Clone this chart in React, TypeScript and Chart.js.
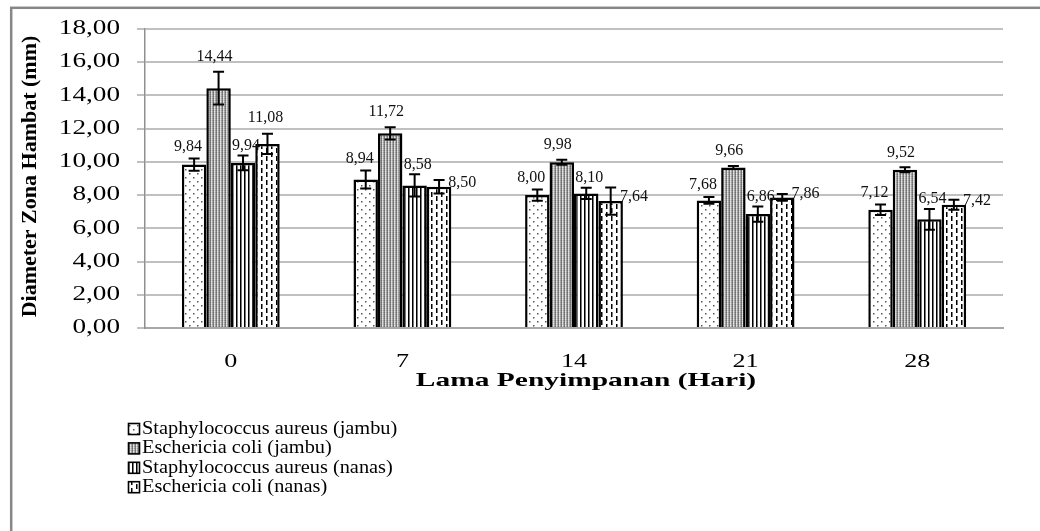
import { useEffect, useRef } from 'react';
import { Chart, registerables } from 'chart.js';

Chart.register(...registerables);

// ---- data ----
const categories = ['0', '7', '14', '21', '28'];
const seriesNames = [
  'Staphylococcus aureus (jambu)',
  'Eschericia coli (jambu)',
  'Staphylococcus aureus (nanas)',
  'Eschericia coli (nanas)',
];
const saJambu = [9.84, 8.94, 8.0, 7.68, 7.12];
const ecJambu = [14.44, 11.72, 9.98, 9.66, 9.52];
const saNanas = [9.94, 8.58, 8.1, 6.86, 6.54];
const ecNanas = [11.08, 8.5, 7.64, 7.86, 7.42];

const errSaJambu = [0.37, 0.54, 0.34, 0.2, 0.31];
const errEcJambu = [0.98, 0.37, 0.15, 0.09, 0.15];
const errSaNanas = [0.45, 0.67, 0.34, 0.46, 0.62];
const errEcNanas = [0.61, 0.41, 0.82, 0.2, 0.3];

const yMin = 0;
const yMax = 18;
const yStep = 2;

const xTitle = 'Lama Penyimpanan (Hari)';
const yTitle = 'Diameter Zona Hambat (mm)';

const seriesValues = [saJambu, ecJambu, saNanas, ecNanas];
const seriesErrors = [errSaJambu, errEcJambu, errSaNanas, errEcNanas];

const FONT = '"Liberation Serif", "Times New Roman", serif';
const fmt = (v: number) => v.toFixed(2).replace('.', ',');

// ---- horizontally stretched text (mimics the wide glyphs of the original) ----
const nativeFillText = CanvasRenderingContext2D.prototype.fillText;

function stretchedFillText(ctx: CanvasRenderingContext2D, text: string, x: number, y: number, sx: number) {
  const w = ctx.measureText(String(text)).width * sx;
  const align = ctx.textAlign;
  let start = x;
  if (align === 'center') start = x - w / 2;
  else if (align === 'right' || align === 'end') start = x - w;
  ctx.save();
  ctx.translate(start, y);
  ctx.scale(sx, 1);
  ctx.textAlign = 'left';
  nativeFillText.call(ctx, String(text), 0, 0);
  ctx.restore();
}

// ---- patterns ----
function makePattern(kind: number): CanvasPattern | string {
  const c = document.createElement('canvas');
  const g = c.getContext('2d');
  if (!g) return '#ffffff';
  if (kind === 0) {
    c.width = 8; c.height = 8;
    g.fillStyle = '#ffffff'; g.fillRect(0, 0, 8, 8);
    g.fillStyle = '#555555';
    g.fillRect(1, 1, 1.5, 1.5);
    g.fillRect(5, 5, 1.5, 1.5);
  } else if (kind === 1) {
    c.width = 3; c.height = 2;
    const cols = [['#6e6e6e', '#cfcfcf', '#999999'], ['#808080', '#e6e6e6', '#b0b0b0']];
    for (let r = 0; r < 2; r++) for (let k = 0; k < 3; k++) { g.fillStyle = cols[r][k]; g.fillRect(k, r, 1, 1); }
  } else if (kind === 2) {
    c.width = 4; c.height = 1;
    g.fillStyle = '#ffffff'; g.fillRect(0, 0, 4, 1);
    g.fillStyle = '#000000'; g.fillRect(0, 0, 1, 1);
    g.fillStyle = '#777777'; g.fillRect(1, 0, 1, 1);
  } else {
    c.width = 10; c.height = 8;
    g.fillStyle = '#ffffff'; g.fillRect(0, 0, 10, 8);
    g.fillStyle = '#000000';
    g.fillRect(1, 0, 1.5, 5);
    g.fillRect(6, 4, 1.5, 4);
    g.fillRect(6, 0, 1.5, 1);
  }
  return g.createPattern(c, 'repeat') || '#ffffff';
}

// ---- plugins ----
const stretch: Record<string, { labels: number; title: number; titleDx: number; titleDy: number }> = {
  x: { labels: 1.45, title: 1.55, titleDx: 12, titleDy: 0 },
  y: { labels: 1.36, title: 1.0, titleDx: 0, titleDy: -2 },
};

const stretchPlugin = {
  id: 'stretchedText',
  beforeDraw(chart: any) {
    for (const id of Object.keys(chart.scales)) {
      const s: any = chart.scales[id];
      const cfg = stretch[id];
      if (!cfg || s.__patched) continue;
      s.__patched = true;
      const ol = s.drawLabels;
      const ot = s.drawTitle;
      s.drawLabels = function (area: any) {
        const c = this.ctx;
        c.fillText = (t: string, x: number, y: number) => stretchedFillText(c, t, x, y, cfg.labels);
        ol.call(this, area);
        delete c.fillText;
      };
      s.drawTitle = function () {
        const c = this.ctx;
        c.save();
        c.translate(cfg.titleDx, cfg.titleDy);
        c.fillText = (t: string, x: number, y: number) => stretchedFillText(c, t, x, y, cfg.title);
        ot.call(this);
        delete c.fillText;
        c.restore();
      };
    }
  },
};

const borderPlugin = {
  id: 'outerBorder',
  beforeDraw(chart: any) {
    const ctx = chart.ctx;
    ctx.save();
    ctx.strokeStyle = '#878787';
    ctx.lineWidth = 2.5;
    ctx.strokeRect(11.2, 7.8, 1200, 700);
    ctx.restore();
  },
};

const errorBarPlugin = {
  id: 'errorBars',
  afterDatasetsDraw(chart: any) {
    const ctx = chart.ctx;
    const y = chart.scales.y;
    ctx.save();
    ctx.strokeStyle = '#000000';
    ctx.lineWidth = 2;
    chart.data.datasets.forEach((ds: any, di: number) => {
      const meta = chart.getDatasetMeta(di);
      meta.data.forEach((bar: any, i: number) => {
        const v = ds.data[i] as number;
        const e = ds.errors[i] as number;
        const top = y.getPixelForValue(v + e);
        const bot = y.getPixelForValue(v - e);
        const x = bar.x;
        ctx.beginPath();
        ctx.moveTo(x, top); ctx.lineTo(x, bot);
        ctx.moveTo(x - 5.5, top); ctx.lineTo(x + 5.5, top);
        ctx.moveTo(x - 5.5, bot); ctx.lineTo(x + 5.5, bot);
        ctx.stroke();
      });
    });
    ctx.restore();
  },
};

const labelDx = [-6, -4, 3, -2];
const labelGap = [12, 15, 10, 16];

const dataLabelPlugin = {
  id: 'valueLabels',
  afterDatasetsDraw(chart: any) {
    const ctx = chart.ctx;
    const y = chart.scales.y;
    ctx.save();
    ctx.font = `16px ${FONT}`;
    ctx.fillStyle = '#111111';
    ctx.textBaseline = 'middle';
    chart.data.datasets.forEach((ds: any, di: number) => {
      const meta = chart.getDatasetMeta(di);
      meta.data.forEach((bar: any, i: number) => {
        const v = ds.data[i] as number;
        const e = ds.errors[i] as number;
        const text = fmt(v);
        if (di === 3 && i > 0) {
          ctx.textAlign = 'left';
          ctx.fillText(text, bar.x + bar.width / 2 - 3, y.getPixelForValue(v) - 4);
        } else {
          ctx.textAlign = 'center';
          ctx.fillText(text, bar.x + labelDx[di], y.getPixelForValue(v + e) - labelGap[di]);
        }
      });
    });
    ctx.restore();
  },
};

const legendPlugin = {
  id: 'customLegend',
  afterDraw(chart: any) {
    const ctx = chart.ctx;
    ctx.save();
    ctx.font = `18px ${FONT}`;
    ctx.textBaseline = 'middle';
    ctx.textAlign = 'left';
    chart.data.datasets.forEach((ds: any, di: number) => {
      const cy = 429 + di * 19.4;
      ctx.fillStyle = ds.backgroundColor;
      ctx.fillRect(128.5, cy - 5.5, 11, 11);
      ctx.strokeStyle = '#000000';
      ctx.lineWidth = 1.6;
      ctx.strokeRect(128.5, cy - 5.5, 11, 11);
      ctx.fillStyle = '#000000';
      stretchedFillText(ctx, ds.label, 142, cy, 1.13);
    });
    ctx.restore();
  },
};

export default function App() {
  const ref = useRef<HTMLCanvasElement>(null);

  useEffect(() => {
    if (!ref.current) return;
    Chart.defaults.font.family = FONT;
    const datasets = seriesValues.map((vals, k) => {
      const pat = makePattern(k);
      return {
        label: seriesNames[k],
        data: vals,
        errors: seriesErrors[k],
        backgroundColor: pat,
        hoverBackgroundColor: pat,
        borderColor: '#000000',
        borderWidth: 2.5,
        categoryPercentage: 0.57,
        barPercentage: 1.0,
      } as any;
    });

    const chart = new Chart(ref.current, {
      type: 'bar',
      data: { labels: categories, datasets },
      options: {
        animation: false,
        responsive: true,
        maintainAspectRatio: false,
        layout: { padding: { left: 0, top: 23, right: 37, bottom: 133 } },
        plugins: {
          legend: { display: false },
          tooltip: { enabled: false },
        },
        scales: {
          x: {
            grid: { display: false, drawTicks: false },
            border: { display: true, color: '#a8a8a8', width: 2 },
            ticks: { color: '#000000', font: { family: FONT, size: 18 }, padding: 23 },
            title: {
              display: true,
              text: xTitle,
              color: '#000000',
              font: { family: FONT, size: 19, weight: 'bold' },
              padding: { top: 0, bottom: 6 },
            },
            afterFit: (s: any) => { s.height = 70; },
          },
          y: {
            min: yMin,
            max: yMax,
            grid: { color: '#c0c0c0', lineWidth: 2, drawTicks: true, tickLength: 8 },
            border: { display: true, color: '#8f8f8f', width: 1.5 },
            ticks: {
              stepSize: yStep,
              color: '#000000',
              font: { family: FONT, size: 20 },
              padding: 17,
              callback: (v: any) => fmt(Number(v)),
            },
            title: {
              display: true,
              text: yTitle,
              color: '#000000',
              font: { family: FONT, size: 22, weight: 'bold' },
              padding: { top: 17, bottom: 0 },
            },
            afterFit: (s: any) => { s.width = 145; },
          },
        },
      },
      plugins: [stretchPlugin, borderPlugin, errorBarPlugin, dataLabelPlugin, legendPlugin],
    } as any);

    return () => chart.destroy();
  }, []);

  return (
    <div style={{ position: 'absolute', left: 0, top: 0, width: 1040, height: 531, background: '#ffffff' }}>
      <canvas ref={ref} />
    </div>
  );
}
